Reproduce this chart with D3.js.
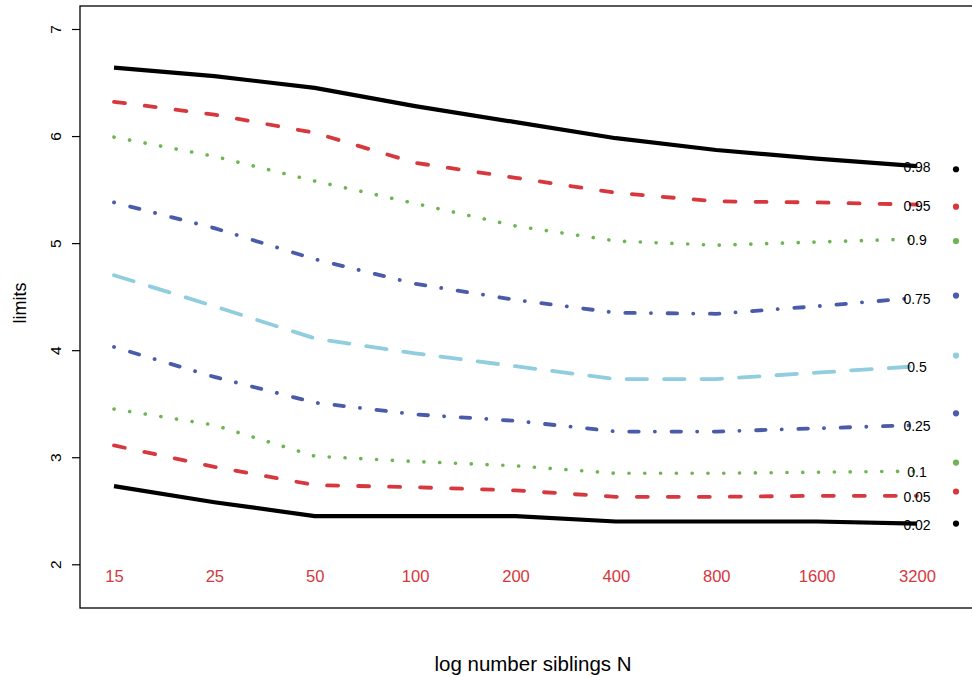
<!DOCTYPE html>
<html>
<head>
<meta charset="utf-8">
<script src="https://cdn.jsdelivr.net/npm/d3@7"></script>
<style>
  html, body { margin: 0; padding: 0; background: #fff; }
  svg { display: block; font-family: "Liberation Sans", Arial, Helvetica, sans-serif; }
</style>
</head>
<body>
<svg id="chart" width="972" height="677"></svg>
<script>
// Sample sizes on the (log) x axis
const categories = ["15", "25", "50", "100", "200", "400", "800", "1600", "3200"];

// Quantile curves of the limits, one array per quantile level
const q98 = [6.64, 6.56, 6.45, 6.28, 6.13, 5.98, 5.87, 5.79, 5.72];
const q95 = [6.32, 6.20, 6.03, 5.75, 5.61, 5.47, 5.39, 5.38, 5.36];
const q90 = [5.99, 5.81, 5.58, 5.37, 5.16, 5.02, 4.98, 5.01, 5.04];
const q75 = [5.38, 5.14, 4.85, 4.62, 4.47, 4.35, 4.34, 4.41, 4.49];
const q50 = [4.70, 4.41, 4.11, 3.97, 3.85, 3.73, 3.73, 3.79, 3.85];
const q25 = [4.03, 3.75, 3.51, 3.40, 3.34, 3.24, 3.24, 3.27, 3.30];
const q10 = [3.45, 3.30, 3.01, 2.96, 2.92, 2.85, 2.85, 2.86, 2.87];
const q05 = [3.11, 2.91, 2.74, 2.72, 2.69, 2.63, 2.63, 2.64, 2.64];
const q02 = [2.73, 2.58, 2.45, 2.45, 2.45, 2.40, 2.40, 2.40, 2.38];

// Quantile labels and the asymptotic limit for each level
const levels = ["0.98", "0.95", "0.9", "0.75", "0.5", "0.25", "0.1", "0.05", "0.02"];
const limitDots = [5.69, 5.34, 5.02, 4.51, 3.95, 3.41, 2.95, 2.68, 2.38];

const yTicks = [2, 3, 4, 5, 6, 7];

// Styling
const RED = "#D6383D", GREEN = "#6DB553", BLUE = "#4A5BA9", LIGHT = "#8FCDDF";
const styles = {
  solid:   { dash: null,                 width: 4.2 },
  dashed:  { dash: "11,20",              width: 3.8 },
  dotted:  { dash: "0.1,15.7",           width: 3.6 },
  dotdash: { dash: "0.1,16.6,9.5,16.1",  width: 3.8 },
  long:    { dash: "20.5,17",            width: 3.8 }
};
const series = [
  { values: q98, color: "#000", style: "solid" },
  { values: q95, color: RED,    style: "dashed" },
  { values: q90, color: GREEN,  style: "dotted" },
  { values: q75, color: BLUE,   style: "dotdash" },
  { values: q50, color: LIGHT,  style: "long" },
  { values: q25, color: BLUE,   style: "dotdash" },
  { values: q10, color: GREEN,  style: "dotted" },
  { values: q05, color: RED,    style: "dashed" },
  { values: q02, color: "#000", style: "solid" }
];

const svg = d3.select("#chart");
const box = { left: 80, top: 6, bottom: 608, right: 990 };

const x = d3.scalePoint().domain(categories).range([114, 917]).padding(0);
const y = d3.scaleLinear().domain([2, 7]).range([564.3, 29]);

// Plot frame
svg.append("rect")
  .attr("x", box.left).attr("y", box.top)
  .attr("width", box.right - box.left).attr("height", box.bottom - box.top)
  .attr("fill", "none").attr("stroke", "#000").attr("stroke-width", 1.3);

// Y axis: outward ticks with rotated labels
const yAxis = d3.axisLeft(y).tickValues(yTicks).tickSize(8).tickFormat(d3.format("d"));
const gy = svg.append("g").attr("transform", `translate(${box.left},0)`).call(yAxis);
gy.select(".domain").remove();
gy.selectAll(".tick line").attr("stroke", "#000").attr("stroke-width", 1.2);
gy.selectAll(".tick text")
  .attr("x", null).attr("dy", null)
  .attr("text-anchor", "middle")
  .attr("transform", "translate(-19,0) rotate(-90)")
  .attr("font-size", 15.5).attr("fill", "#000");

// X category labels, drawn inside the frame
const xAxis = d3.axisBottom(x).tickSize(0).tickPadding(0);
const gx = svg.append("g").attr("transform", "translate(0,564)").call(xAxis);
gx.select(".domain").remove();
gx.selectAll(".tick text")
  .attr("y", 0).attr("dy", "17.7")
  .attr("font-size", 16.6).attr("fill", RED);

// Quantile curves
const line = d3.line()
  .x((d, i) => x(categories[i]))
  .y(d => y(d))
  .curve(d3.curveLinear);

series.forEach(s => {
  const st = styles[s.style];
  svg.append("path")
    .datum(s.values)
    .attr("d", line)
    .attr("fill", "none")
    .attr("stroke", s.color)
    .attr("stroke-width", st.width)
    .attr("stroke-linecap", st.dash ? "round" : "butt")
    .attr("stroke-linejoin", "round")
    .attr("stroke-dasharray", st.dash);
});

// Level labels at the end of each curve
svg.append("g").selectAll("text")
  .data(series)
  .join("text")
  .attr("x", x(categories[categories.length - 1]))
  .attr("y", d => y(d.values[d.values.length - 1]) + 1)
  .attr("text-anchor", "middle")
  .attr("dominant-baseline", "central")
  .attr("font-size", 14)
  .attr("fill", "#000")
  .text((d, i) => levels[i]);

// Limiting values as dots at the right edge
svg.append("g").selectAll("circle")
  .data(limitDots)
  .join("circle")
  .attr("cx", 956)
  .attr("cy", d => y(d))
  .attr("r", 3.1)
  .attr("fill", (d, i) => series[i].color);

// Axis titles
svg.append("text")
  .attr("x", 533).attr("y", 671)
  .attr("text-anchor", "middle")
  .attr("font-size", 20.5)
  .attr("fill", "#000")
  .text("log number siblings N");

svg.append("text")
  .attr("transform", "translate(26,303) rotate(-90)")
  .attr("text-anchor", "middle")
  .attr("font-size", 18)
  .attr("fill", "#000")
  .text("limits");
</script>
</body>
</html>
